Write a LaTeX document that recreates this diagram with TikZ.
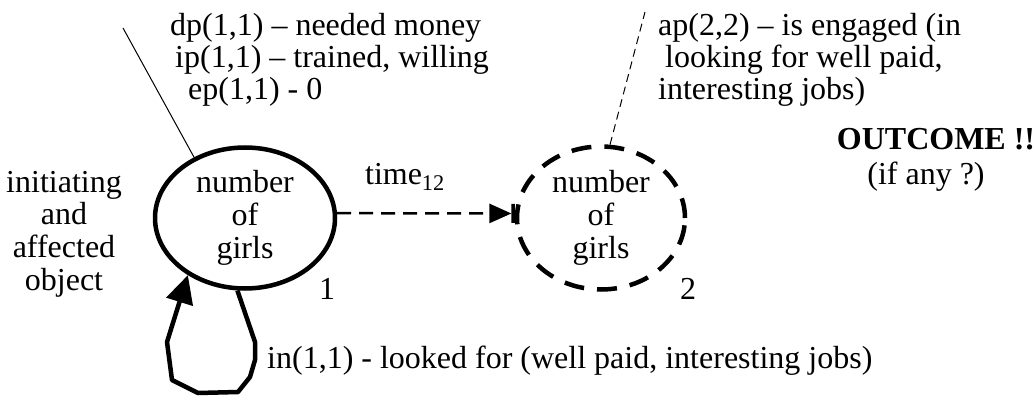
\documentclass[tikz,border=0pt]{standalone}
\usepackage{fontspec}
\setmainfont{Liberation Serif}
\usetikzlibrary{shapes.geometric,arrows.meta}
\begin{document}
\begin{tikzpicture}[x=1pt,y=-1pt,
    txt/.style={inner sep=0pt,font=\fontsize{32}{32.7}\selectfont},
    obj/.style={ellipse,draw,line width=4.5pt,inner sep=0pt,align=center,txt}]
    \useasboundingbox (0,0) rectangle (1034,398);
    % objects
    \node[obj,minimum width=180pt,minimum height=141pt] (girls1) at (245,218) {number\\of\\girls};
    \node[obj,dash pattern=on 20pt off 13pt,minimum width=168pt,minimum height=143pt] (girls2) at (601,218) {number\\of\\girls};
    \node[txt] (num1) at (327,289) {1};
    \node[txt] (num2) at (688,289) {2};
    % texts
    \node[txt,align=center] (role) at (64,234) {initiating\\and\\affected\\object};
    \node[txt,anchor=west] (dp) at (170,28) {dp(1,1) -- needed money};
    \node[txt,anchor=west] (ip) at (175,60) {ip(1,1) -- trained, willing};
    \node[txt,anchor=west] (ep) at (188,92) {ep(1,1) - 0};
    \node[txt,anchor=west] (ap) at (658,28) {ap(2,2) -- is engaged (in};
    \node[txt,anchor=west] (ap2) at (665,60) {looking for well paid,};
    \node[txt,anchor=west] (ap3) at (658,92) {interesting jobs)};
    \node[txt] (outcome) at (936,139) {\bfseries OUTCOME !!};
    \node[txt] (ifany) at (926,177) {(if any ?)};
    \node[txt] (time) at (405,177) {time\textsubscript{12}};
    \node[txt,anchor=west] (in) at (267,361) {in(1,1) - looked for (well paid, interesting jobs)};
    \coordinate (c1) at (123,28);
    \coordinate (c2) at (645,12);
    % connectors
    \draw[line width=1pt] (girls1.130) -- (c1);
    \draw[line width=1pt,dash pattern=on 8pt off 5pt] (girls2.83) -- (c2);
    \draw[line width=2.5pt,dash pattern=on 14pt off 8pt,
        -{Triangle[length=22pt,width=19pt]Bar[width=19pt,line width=3.5pt]}] (girls1.3) -- (girls2.177);
    \draw[line width=4.5pt,line join=round,-{Triangle[length=28pt,width=27pt]}]
        (girls1.264) -- (255,342) -- (255,360) -- (250,377) -- (238,392)
        -- (198,393) -- (172,380) -- (167,342) -- (girls1.225);
\end{tikzpicture}
\end{document}
